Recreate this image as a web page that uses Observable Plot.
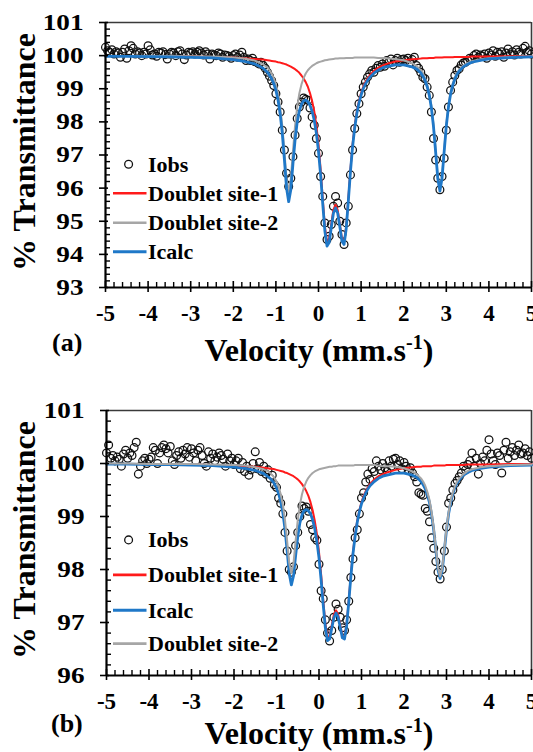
<!DOCTYPE html>
<html><head><meta charset="utf-8">
<script src="https://cdn.jsdelivr.net/npm/d3@7"></script>
<script src="https://cdn.jsdelivr.net/npm/@observablehq/plot@0.6"></script>
<style>
html,body{margin:0;padding:0;background:#fff;}
#wrap{position:relative;width:533px;height:752px;overflow:hidden;background:#fff;}
.pan{position:absolute;left:0;width:533px;height:376px;}
#ov{position:absolute;left:0;top:0;}
#wrap svg text{font-family:"Liberation Serif","Times New Roman","DejaVu Serif",serif !important;font-weight:bold;}
</style></head><body><div id="wrap"><div class="pan" id="pa" style="top:0px"></div><div class="pan" id="pb" style="top:376px"></div></div>
<script>
// ---------- velocity grid of the fitted curves (mm/s) ----------
const fitV = [-5,-4.5,-4,-3.5,-3,-2.5,-2,-1.75,-1.5,-1.4,-1.3,-1.2,
-1.15,-1.1,-1.05,-1,-0.95,-0.9,-0.85,-0.8,-0.75,-0.7,
-0.65,-0.6,-0.55,-0.5,-0.45,-0.4,-0.35,-0.3,-0.25,-0.2,
-0.15,-0.1,-0.05,0,0.05,0.1,0.15,0.2,0.25,0.3,
0.35,0.4,0.45,0.5,0.55,0.6,0.65,0.7,0.75,0.8,
0.85,0.9,0.95,1,1.05,1.1,1.15,1.2,
1.3,1.4,1.5,1.6,1.8,2,2.2,2.3,2.4,
2.45,2.5,2.55,2.6,2.65,2.7,2.75,2.8,2.85,2.9,2.95,3,3.05,3.1,3.15,3.2,3.25,3.3,
3.4,3.5,3.6,3.8,4,4.5,5];

// ---------- panel (a) ----------
const site1A = [99.99,99.99,99.98,99.98,99.97,99.96,99.94,99.92,99.90,99.89,99.88,99.86,
99.85,99.84,99.83,99.82,99.80,99.79,99.77,99.75,99.73,99.70,
99.67,99.63,99.59,99.54,99.48,99.40,99.31,99.20,99.06,98.87,
98.63,98.32,97.89,97.32,96.57,95.68,94.84,94.38,94.48,94.92,
95.34,95.50,95.34,94.92,94.48,94.38,94.84,95.68,96.57,97.32,
97.89,98.32,98.63,98.87,99.06,99.20,99.31,99.40,
99.54,99.63,99.70,99.75,99.82,99.86,99.89,99.90,99.91,
99.92,99.92,99.92,99.93,99.93,99.93,99.94,99.94,99.94,99.94,99.95,99.95,99.95,99.95,99.95,99.96,99.96,99.96,
99.96,99.96,99.97,99.97,99.97,99.98,99.98];
const site2A = [99.99,99.99,99.99,99.99,99.98,99.97,99.94,99.91,99.85,99.80,99.74,99.64,
99.56,99.46,99.32,99.13,98.86,98.46,97.88,97.10,96.28,95.89,
96.28,97.10,97.88,98.45,98.86,99.13,99.32,99.46,99.56,99.63,
99.69,99.73,99.77,99.80,99.82,99.84,99.86,99.87,99.88,99.89,
99.90,99.91,99.91,99.92,99.92,99.92,99.93,99.93,99.93,99.93,
99.94,99.94,99.94,99.94,99.94,99.94,99.94,99.94,
99.94,99.93,99.93,99.92,99.90,99.86,99.77,99.69,99.56,
99.47,99.33,99.14,98.88,98.48,97.92,97.15,96.35,95.97,96.35,97.16,97.92,98.49,98.88,99.15,99.34,99.47,99.57,
99.70,99.78,99.83,99.89,99.92,99.96,99.98];
const calcA = [99.98,99.98,99.97,99.96,99.95,99.93,99.88,99.83,99.75,99.69,99.62,99.50,
99.41,99.30,99.15,98.95,98.66,98.24,97.65,96.85,96.00,95.59,
95.95,96.73,97.46,97.99,98.33,98.53,98.63,98.66,98.61,98.50,
98.32,98.05,97.66,97.11,96.39,95.52,94.70,94.25,94.36,94.81,
95.24,95.40,95.25,94.84,94.40,94.30,94.77,95.61,96.50,97.25,
97.82,98.25,98.57,98.81,99.00,99.14,99.25,99.34,
99.47,99.56,99.63,99.67,99.72,99.72,99.66,99.60,99.48,
99.38,99.25,99.07,98.81,98.42,97.85,97.09,96.29,95.91,96.30,97.10,97.87,98.44,98.83,99.10,99.29,99.43,99.53,
99.66,99.74,99.80,99.86,99.90,99.94,99.96];
// observed points, from -5 mm/s every 0.05 mm/s
const obsStart = -5, obsStep = 0.05;
const iobsA = [100.25,100.15,100.10,100.18,100.05,100.12,100.08,99.95,100.10,100.20,99.92,100.15,100.30,100.22,100.05,100.12,100.08,100.00,100.10,100.05,
100.30,100.18,100.02,100.05,99.98,100.10,100.08,100.12,100.03,99.90,100.05,100.10,100.08,100.00,100.12,100.15,100.05,99.88,100.02,100.10,
100.08,100.12,100.05,100.10,100.15,100.08,100.02,100.12,100.05,99.90,100.05,100.02,100.00,100.08,100.05,99.95,100.02,100.00,99.98,99.92,
100.00,100.05,99.95,100.02,100.10,99.95,99.85,99.90,99.85,99.92,99.82,99.80,99.75,99.80,99.70,99.62,99.50,99.38,99.25,99.10,
98.85,98.60,98.30,97.75,97.15,96.45,96.05,96.30,96.95,97.60,98.10,98.45,98.60,98.72,98.68,98.65,98.42,98.15,97.90,97.50,
97.05,96.35,95.75,94.95,94.45,94.55,94.90,95.45,95.75,95.55,95.00,94.60,94.30,94.95,95.45,96.40,97.15,97.80,98.25,98.55,
98.85,99.05,99.20,99.35,99.45,99.55,99.50,99.62,99.70,99.65,99.75,99.68,99.85,99.80,99.90,99.72,99.85,99.92,99.80,99.88,
99.90,99.85,99.92,99.78,99.88,99.95,99.70,99.62,99.50,99.35,99.30,99.05,98.80,98.30,97.50,96.85,96.30,95.95,96.35,96.90,
97.75,98.45,98.95,99.20,99.40,99.55,99.60,99.72,99.78,99.80,99.85,99.92,99.90,100.00,100.05,99.95,100.02,99.98,100.05,99.92,
100.08,100.02,100.15,99.98,100.10,100.05,100.12,99.95,100.08,100.20,100.05,100.12,100.02,100.18,100.10,100.05,100.22,100.28,100.10,100.15,
100.05];

// ---------- panel (b) ----------
const site1B = [99.99,99.99,99.99,99.98,99.98,99.97,99.96,99.95,99.94,99.93,99.92,99.91,
99.90,99.90,99.89,99.88,99.87,99.86,99.85,99.83,99.82,99.80,
99.78,99.76,99.73,99.70,99.66,99.61,99.55,99.48,99.39,99.27,
99.12,98.92,98.67,98.33,97.91,97.42,96.98,96.73,96.75,96.95,
97.15,97.23,97.15,96.95,96.75,96.73,96.98,97.42,97.91,98.33,
98.67,98.92,99.12,99.27,99.39,99.48,99.55,99.61,
99.70,99.76,99.80,99.83,99.88,99.91,99.93,99.94,99.94,
99.95,99.95,99.95,99.95,99.95,99.96,99.96,99.96,99.96,99.96,99.96,99.97,99.97,99.97,99.97,99.97,99.97,99.97,
99.97,99.98,99.98,99.98,99.98,99.99,99.99];
const site2B = [100.00,100.00,99.99,99.99,99.99,99.98,99.97,99.96,99.93,99.91,99.89,99.85,
99.82,99.78,99.73,99.66,99.56,99.42,99.22,98.93,98.54,98.12,
97.93,98.12,98.54,98.93,99.22,99.42,99.56,99.66,99.73,99.78,
99.82,99.85,99.87,99.89,99.90,99.91,99.92,99.93,99.94,99.94,
99.95,99.95,99.96,99.96,99.96,99.96,99.96,99.96,99.96,99.96,
99.97,99.97,99.97,99.97,99.97,99.97,99.97,99.97,
99.97,99.96,99.95,99.95,99.94,99.91,99.85,99.80,99.72,
99.66,99.58,99.46,99.31,99.08,98.78,98.40,98.03,97.87,98.03,98.40,98.78,99.08,99.31,99.46,99.58,99.66,99.72,
99.80,99.86,99.89,99.93,99.95,99.97,99.98];
const calcB = [99.99,99.99,99.98,99.98,99.97,99.96,99.93,99.91,99.87,99.84,99.81,99.75,
99.72,99.67,99.62,99.54,99.43,99.28,99.07,98.76,98.35,97.92,
97.71,97.88,98.26,98.62,98.88,99.03,99.11,99.13,99.11,99.05,
98.94,98.77,98.53,98.22,97.80,97.33,96.90,96.66,96.69,96.89,
97.09,97.18,97.10,96.91,96.71,96.69,96.94,97.38,97.87,98.30,
98.63,98.89,99.09,99.24,99.35,99.44,99.52,99.58,
99.66,99.72,99.76,99.78,99.82,99.82,99.78,99.74,99.66,
99.60,99.52,99.41,99.26,99.03,98.74,98.36,97.99,97.83,97.99,98.36,98.75,99.05,99.27,99.43,99.55,99.63,99.69,
99.78,99.83,99.87,99.91,99.93,99.96,99.97];
const iobsB = [100.20,100.35,100.10,100.15,100.05,100.12,100.08,99.95,100.18,100.25,100.10,100.20,100.15,100.30,100.40,99.80,99.95,100.05,100.10,100.00,
100.08,100.12,100.30,100.25,100.00,100.20,100.30,100.35,100.28,100.20,100.32,100.05,99.98,100.15,100.22,100.10,100.25,100.18,100.30,100.12,
100.28,100.20,100.05,100.25,100.30,100.15,100.00,99.95,100.22,100.10,100.18,100.05,100.12,100.20,100.15,100.08,99.95,100.18,100.05,100.10,
99.98,100.05,100.10,99.90,100.02,99.85,99.95,99.78,99.88,100.00,100.22,99.90,100.02,99.85,99.95,99.80,99.88,99.72,99.78,99.60,
99.55,99.35,99.25,99.05,98.70,98.35,98.00,97.95,98.05,98.45,98.70,99.00,99.20,99.15,99.18,99.10,98.85,98.75,98.60,98.55,
98.10,97.60,97.45,97.05,96.80,96.65,96.85,97.10,97.35,97.25,97.10,96.90,96.85,97.05,97.40,97.85,98.20,98.60,98.75,99.05,
99.35,99.45,99.65,99.80,99.70,99.90,99.85,100.05,99.95,99.88,100.00,99.92,99.85,100.05,99.95,100.08,100.10,99.98,100.05,99.90,
100.02,99.95,99.88,99.92,99.82,99.75,99.65,99.45,99.42,99.40,99.15,99.10,98.90,98.60,98.40,98.15,97.95,97.82,98.00,98.35,
98.80,99.25,99.35,99.50,99.62,99.68,99.75,99.82,99.95,99.88,99.98,100.05,100.20,99.95,100.10,99.80,100.00,100.12,100.05,100.25,
100.45,100.18,100.05,99.98,100.20,100.15,99.82,100.25,100.40,100.10,100.22,100.30,100.15,100.25,100.35,100.18,100.20,100.28,100.15,100.22,
100.10];

// ---------- ticks & labels ----------
const xTicks = [-5,-4,-3,-2,-1,0,1,2,3,4,5];
const yTicksA = [93,94,95,96,97,98,99,100,101];
const yTicksB = [96,97,98,99,100,101];
const seriesLabels = {obs:"Iobs", site1:"Doublet site-1", site2:"Doublet site-2", calc:"Icalc"};
const legendOrderA = ["obs","site1","site2","calc"];
const legendOrderB = ["obs","site1","calc","site2"];
const xTitle = "Velocity (mm.s", xTitleSup = "-1", xTitleEnd = ")";
const yTitle = "% Transmittance";

const COL = {site1:"#ff1a1a", site2:"#a6a6a6", calc:"#1f78c8", obs:"#111"};
const SW = {site1:2, site2:2, calc:2.8};
const FONT = "Liberation Serif";

function minorOf(a,b){ const out=[]; for(let i=Math.round(a*5); i<=Math.round(b*5); i++){ if(i%5!==0) out.push(i/5);} return out; }

function makePanel(el, cfg){
  const W=533, H=376;
  const pH = H - cfg.mt - cfg.mb, pW = W - cfg.ml - cfg.mr;
  const fit = fitV.map((v,i)=>({v, site1:cfg.s1[i], site2:cfg.s2[i], calc:cfg.c[i]}));
  const obs = cfg.obs.map((t,i)=>({v: +(obsStart + i*obsStep).toFixed(2), t}));
  const yMin = cfg.yTicks[0], yMax = cfg.yTicks[cfg.yTicks.length-1];
  const marks = [
    Plot.ruleY([yMax], {stroke:"#3a3a3a", strokeWidth:1.6}),
    Plot.ruleX([5], {stroke:"#3a3a3a", strokeWidth:1.6}),
    Plot.dot(obs, {x:"v", y:"t", r:3.9, stroke:COL.obs, strokeWidth:1.25, fill:"none"}),
    ...cfg.lineOrder.map(k => Plot.line(fit, {x:"v", y:k, stroke:COL[k], strokeWidth:SW[k]})),
    Plot.ruleX(minorOf(-5,5), {stroke:"#000", strokeWidth:1.4, insetTop:pH-5}),
    Plot.ruleX(xTicks, {stroke:"#000", strokeWidth:1.6, insetTop:pH-6}),
    Plot.ruleY(minorOf(yMin,yMax), {stroke:"#000", strokeWidth:1.4, insetRight:pW-5}),
    Plot.ruleY(cfg.yTicks, {stroke:"#000", strokeWidth:1.6, insetRight:pW-3}),
    Plot.ruleX([-5], {stroke:"#000", strokeWidth:2.2}),
    Plot.ruleY([yMin], {stroke:"#000", strokeWidth:2.2}),
    Plot.axisX({ticks:xTicks, tickSize:5, tickPadding:12, tickFormat:d=>String(d), label:null,
      fontSize:23, fontWeight:"bold", fontFamily:FONT, strokeWidth:1.6}),
    Plot.axisY({ticks:cfg.yTicks, tickSize:6, tickPadding:16, tickFormat:d=>String(d), label:null,
      fontSize:23, fontWeight:"bold", fontFamily:FONT, strokeWidth:1.6})
  ];
  const svg = Plot.plot({
    width:W, height:H, marginLeft:cfg.ml, marginRight:cfg.mr, marginTop:cfg.mt, marginBottom:cfg.mb,
    x:{domain:[-5,5]}, y:{domain:[yMin,yMax]},
    style:{background:"#fff", color:"#000", overflow:"visible", fontFamily:"Liberation Serif"},
    marks
  });
  el.appendChild(svg);
  // the y tick numbers of the original are drawn wide: stretch them horizontally
  d3.select(svg).selectAll('g[aria-label="y-axis tick label"] text').each(function(){
    const n = this.textContent.length;
    this.setAttribute("textLength", n*13.6);
    this.setAttribute("lengthAdjust","spacingAndGlyphs");
  });
}

makePanel(document.getElementById("pa"), {ml:105, mr:2, mt:22, mb:89, yTicks:yTicksA,
  s1:site1A, s2:site2A, c:calcA, obs:iobsA, lineOrder:["site1","site2","calc"]});
makePanel(document.getElementById("pb"), {ml:106, mr:2, mt:34, mb:77, yTicks:yTicksB,
  s1:site1B, s2:site2B, c:calcB, obs:iobsB, lineOrder:["site1","calc","site2"]});

// ---------- overlay: titles, panel letters, legends ----------
const ov = d3.select("#wrap").append("svg").attr("id","ov").attr("width",533).attr("height",752)
  .attr("font-family",FONT).attr("font-weight","bold").attr("fill","#000");

function yTitleAt(cy){
  ov.append("text").attr("transform",`translate(35,${cy}) rotate(-90)`).attr("text-anchor","middle")
    .attr("font-size",32).text(yTitle);
}
function xTitleAt(cx, base){
  const t = ov.append("text").attr("x",cx).attr("y",base).attr("text-anchor","middle").attr("font-size",32);
  t.append("tspan").text(xTitle);
  t.append("tspan").attr("dy",-12).attr("font-size",20).text(xTitleSup);
  t.append("tspan").attr("dy",12).text(xTitleEnd);
}
function letter(txt, x, base){
  ov.append("text").attr("x",x).attr("y",base).attr("font-size",26).text(txt);
}
function legend(order, ys){
  order.forEach((k,i)=>{
    const cy = ys[i];
    if(k==="obs"){
      ov.append("circle").attr("cx",128.6).attr("cy",cy).attr("r",3.9).attr("fill","none")
        .attr("stroke",COL.obs).attr("stroke-width",1.3);
    } else {
      ov.append("line").attr("x1",113).attr("x2",146.5).attr("y1",cy).attr("y2",cy)
        .attr("stroke",COL[k]).attr("stroke-width",k==="calc"?3:2.6);
    }
    ov.append("text").attr("x",148).attr("y",cy+7.3).attr("font-size",22).text(seriesLabels[k]);
  });
}
yTitleAt(152); xTitleAt(319, 361); letter("(a)", 52, 351);
legend(legendOrderA, [164.3,193.2,222.7,251.7]);
yTitleAt(540); xTitleAt(319, 744); letter("(b)", 51, 732);
legend(legendOrderB, [539.9,574.9,610.3,643.6]);
</script></body></html>
